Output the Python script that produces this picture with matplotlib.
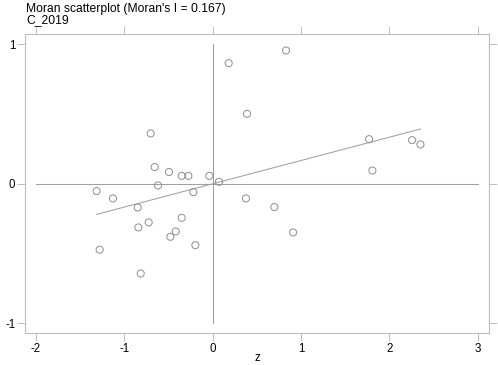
import numpy as np
import matplotlib
matplotlib.use("Agg")
import matplotlib.pyplot as plt

plt.rcParams['font.family'] = ['Liberation Sans', 'DejaVu Sans']
plt.rcParams['axes.unicode_minus'] = False

# Moran scatterplot data: standardized value z and its spatial lag Wz
moran_i = 0.167
z = [0.181, 0.389, -0.702, -0.657, -0.495, -0.351, -0.275, -0.038, -0.619, 0.072,
     -0.219, -1.314, -1.129, 0.830, 1.771, 2.258, 2.352, 1.808, 0.377, -0.849,
     -0.842, -0.725, -0.351, -0.419, -0.479, -0.196, -1.280, -0.815, 0.698, 0.910]
wz = [0.865, 0.502, 0.361, 0.120, 0.084, 0.057, 0.057, 0.057, -0.012, 0.014,
      -0.060, -0.052, -0.105, 0.956, 0.320, 0.313, 0.282, 0.095, -0.105, -0.170,
      -0.313, -0.277, -0.244, -0.342, -0.380, -0.440, -0.473, -0.643, -0.167, -0.349]
xticks = [-2, -1, 0, 1, 2, 3]
yticks = [-1, 0, 1]

frame_col = '#bdbdbd'
line_col = '#a0a0a0'

fig = plt.figure(figsize=(4.98, 3.65), dpi=100)
ax = fig.add_axes([0.0502, 0.0877, 0.9317, 0.8191])

# reference lines at 0
ax.plot([xticks[0], xticks[-1]], [0, 0], color=line_col, lw=0.75)
ax.plot([0, 0], [yticks[0], yticks[-1]], color=line_col, lw=0.75)

# fitted line, slope = Moran's I
zz = np.array([min(z), max(z)])
ax.plot(zz, moran_i * zz, color=line_col, lw=0.75)

ax.scatter(z, wz, s=26, facecolors='none', edgecolors='#8c8c8c', linewidths=0.7, zorder=3)

ax.set_xlim(-2.125, 3.128)
ax.set_ylim(-1.07, 1.074)
ax.set_xticks(xticks)
ax.set_yticks(yticks)
ax.tick_params(direction='out', length=5.5, width=0.7, color=frame_col,
               labelsize=8.3, pad=1.5, top=True, right=True)
for s in ax.spines.values():
    s.set_color(frame_col)
    s.set_linewidth(0.8)

ax.set_xlabel('z', fontsize=8.3)
ax.xaxis.set_label_coords(0.5, -0.064)
fig.text(0.052, 0.993, "Moran scatterplot (Moran's I = 0.167)\nC_2019",
         ha='left', va='top', fontsize=8.7, linespacing=0.95)

fig.savefig('out.png', dpi=100)
